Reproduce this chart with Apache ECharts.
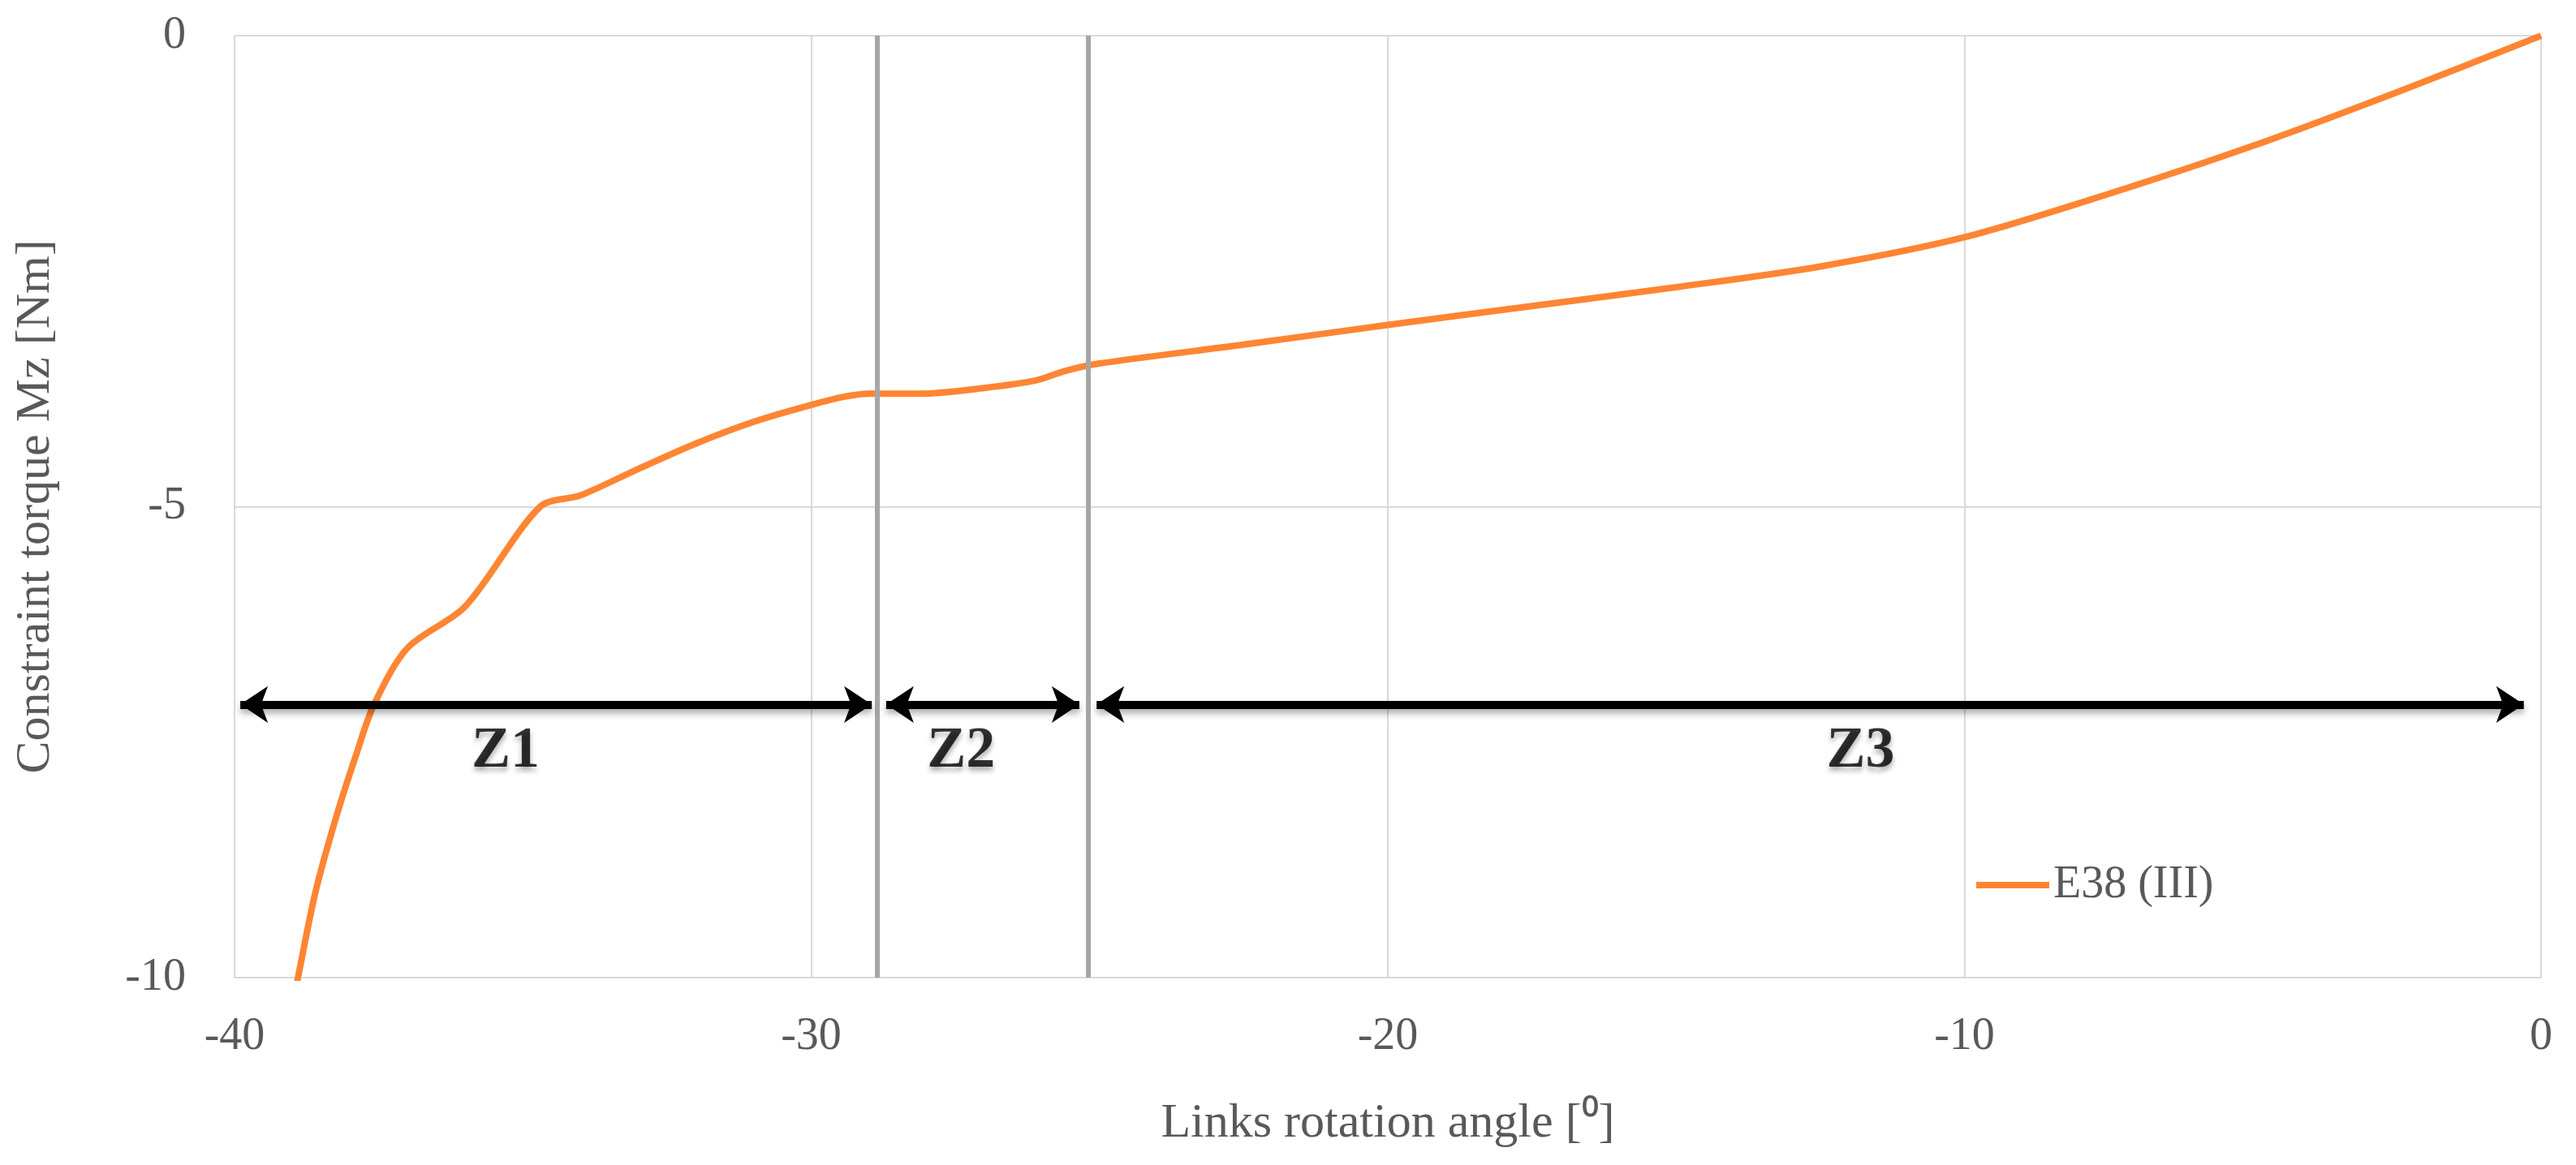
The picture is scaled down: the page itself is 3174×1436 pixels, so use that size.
<!DOCTYPE html>
<html>
<head>
<meta charset="utf-8">
<script src="https://cdn.jsdelivr.net/npm/echarts@6/dist/echarts.min.js"></script>
<style>html,body{margin:0;padding:0;background:#fff}#chart{width:3174px;height:1436px}</style>
</head>
<body>
<div id="chart"></div>
<script>
// data
var angles  = [-39.1, -38.9, -38.6, -38.24, -37.9, -37.58, -37.0, -36.0, -34.7, -34.0, -33.0, -32.0, -31.0, -30.0, -29.4, -29.0, -28.1, -27.0, -26.1, -25.6, -25.0, -22.5, -20.0, -17.5, -15.0, -12.5, -10.0, -7.5, -5.0, -2.5, 0];
var torques = [-10.6, -10.0, -9.1, -8.3, -7.65, -7.1, -6.5, -6.06, -5.0, -4.88, -4.6, -4.33, -4.1, -3.92, -3.83, -3.8, -3.8, -3.74, -3.66, -3.56, -3.48, -3.28, -3.07, -2.87, -2.67, -2.45, -2.14, -1.68, -1.17, -0.6, 0];
var zoneBounds = [-28.85, -25.2];
var arrows = [[-39.9, -28.95], [-28.7, -25.35], [-25.05, -0.3]];
var zoneNames = ['Z1', 'Z2', 'Z3'];
var zoneLabelX = [-35.3, -27.4, -11.8];
var arrowY = -7.1;
var labelY = -7.6;

var chart = echarts.init(document.getElementById('chart'));
var serif = 'Liberation Serif';

chart.setOption({
  animation: false,
  textStyle: {fontFamily: serif},
  grid: {left: 289, right: 43, top: 44, bottom: 231},
  legend: {
    data: [{name: 'E38 (III)', icon: 'rect'}], left: 2430, top: 1058, itemWidth: 90, itemHeight: 8, itemGap: 10,
    textStyle: {fontFamily: serif, fontSize: 56, color: '#595959'}
  },
  xAxis: {
    type: 'value', min: -40, max: 0, interval: 10,
    name: 'Links rotation angle [⁰]', nameLocation: 'middle', nameGap: 150,
    nameTextStyle: {fontFamily: serif, fontSize: 60, color: '#595959'},
    axisLine: {show: false}, axisTick: {show: false},
    axisLabel: {fontFamily: serif, fontSize: 56, color: '#595959', margin: 45},
    splitLine: {lineStyle: {color: '#d9d9d9', width: 2}}
  },
  yAxis: {
    type: 'value', min: -10, max: 0, interval: 5,
    name: 'Constraint torque Mz [Nm]', nameLocation: 'middle', nameGap: 215,
    nameTextStyle: {fontFamily: serif, fontSize: 60, color: '#595959'},
    axisLine: {show: false}, axisTick: {show: false},
    axisLabel: {fontFamily: serif, fontSize: 56, color: '#595959', margin: 60},
    splitLine: {lineStyle: {color: '#d9d9d9', width: 2}}
  },
  series: [
    {
      name: 'E38 (III)', type: 'line', showSymbol: false, smooth: 0.3, clip: true,
      lineStyle: {color: '#ff8533', width: 8}, itemStyle: {color: '#ff8533'},
      data: angles.map(function (a, i) { return [a, torques[i]]; }),
      markLine: {
        silent: true, symbol: 'none', label: {show: false},
        lineStyle: {color: '#a6a6a6', width: 6, type: 'solid'},
        data: zoneBounds.map(function (b) { return {xAxis: b}; })
      }
    },
    {
      name: 'arrows', type: 'line', showSymbol: false, data: [],
      markLine: {
        silent: true, symbol: ['arrow', 'arrow'], symbolSize: [34, 34], label: {show: false},
        lineStyle: {color: '#000', width: 10, type: 'solid', shadowColor: 'rgba(0,0,0,0.35)', shadowBlur: 8, shadowOffsetY: 5},
        data: arrows.map(function (a) { return [{coord: [a[0], arrowY]}, {coord: [a[1], arrowY]}]; })
      }
    },
    {
      name: 'zones', type: 'scatter', symbolSize: 0,
      data: zoneNames.map(function (n, i) { return {value: [zoneLabelX[i], labelY], name: n}; }),
      label: {
        show: true, position: 'inside', formatter: '{b}',
        fontFamily: serif, fontSize: 72, fontWeight: 'bold', color: '#000',
        textShadowColor: 'rgba(0,0,0,0.4)', textShadowBlur: 6, textShadowOffsetY: 5
      }
    }
  ]
});
</script>
</body>
</html>
